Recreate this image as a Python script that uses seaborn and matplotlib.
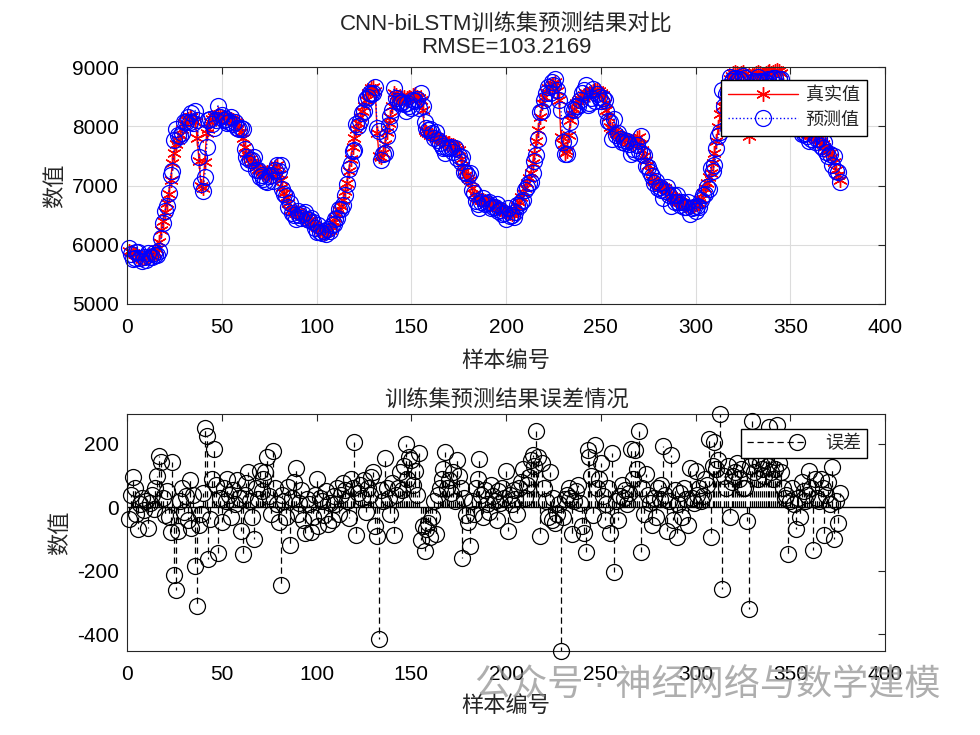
import numpy as np
import matplotlib
matplotlib.use('Agg')
import matplotlib.pyplot as plt
from matplotlib.lines import Line2D
from matplotlib.legend_handler import HandlerBase
import seaborn as sns

# 训练集真实值 (sample 1..376)
true_vals = [
    5900, 5880, 5860, 5840, 5850, 5800, 5780, 5760, 5790, 5770,
    5800, 5810, 5830, 5850, 5880, 5920, 6050, 6250, 6400, 6550,
    6700, 6850, 7100, 7380, 7550, 7700, 7770, 7850, 7950, 8050,
    8100, 8120, 8150, 8160, 8100, 8080, 7800, 7420, 7000, 6950,
    7400, 7880, 7950, 8080, 8120, 8150, 8180, 8200, 8180, 8150,
    8160, 8140, 8150, 8120, 8130, 8100, 8080, 8050, 7980, 7900,
    7800, 7650, 7550, 7500, 7450, 7400, 7380, 7320, 7280, 7260,
    7230, 7200, 7180, 7220, 7200, 7150, 7250, 7320, 7350, 7200,
    7100, 6980, 6880, 6800, 6700, 6590, 6560, 6580, 6560, 6550,
    6520, 6500, 6480, 6470, 6460, 6420, 6380, 6350, 6330, 6300,
    6280, 6250, 6220, 6200, 6230, 6210, 6250, 6300, 6380, 6450,
    6520, 6580, 6650, 6750, 6900, 7050, 7250, 7450, 7650, 7800,
    7950, 8050, 8160, 8250, 8350, 8450, 8560, 8600, 8640, 8670,
    8600, 7880, 7500, 7480, 7550, 7700, 7900, 8050, 8160, 8350,
    8560, 8520, 8480, 8500, 8470, 8500, 8450, 8480, 8500, 8460,
    8520, 8550, 8500, 8480, 8450, 8280, 7940, 7900, 7880, 7860,
    7850, 7830, 7820, 7800, 7780, 7760, 7750, 7720, 7700, 7710,
    7690, 7680, 7650, 7620, 7600, 7450, 7320, 7250, 7180, 7120,
    7090, 6950, 6850, 6800, 6780, 6770, 6760, 6760, 6740, 6720,
    6700, 6690, 6680, 6660, 6640, 6620, 6600, 6580, 6570, 6550,
    6540, 6530, 6520, 6530, 6580, 6650, 6720, 6800, 6870, 6950,
    7050, 7130, 7210, 7380, 7550, 7750, 7940, 8150, 8390, 8500,
    8580, 8640, 8670, 8700, 8720, 8750, 8600, 8450, 7820, 7700,
    7550, 7580, 7850, 8100, 8200, 8300, 8390, 8420, 8460, 8500,
    8530, 8560, 8540, 8550, 8580, 8600, 8620, 8610, 8590, 8560,
    8520, 8400, 8270, 8150, 7990, 7950, 7920, 7880, 7850, 7820,
    7800, 7790, 7780, 7760, 7740, 7720, 7710, 7750, 7800, 7820,
    7700, 7600, 7500, 7430, 7350, 7250, 7100, 7080, 7050, 7020,
    7000, 6990, 6980, 6950, 6900, 6860, 6820, 6800, 6770, 6750,
    6730, 6720, 6700, 6690, 6670, 6660, 6640, 6650, 6660, 6680,
    6690, 6700, 6780, 6870, 6950, 7050, 7150, 7210, 7380, 7550,
    7750, 7990, 8200, 8350, 8440, 8600, 8700, 8800, 8850, 8900,
    8920, 8900, 8880, 8900, 8910, 8880, 8300, 7830, 8400, 8850,
    8880, 8900, 8920, 8900, 8880, 8870, 8900, 8920, 8930, 8900,
    8910, 8930, 8950, 8940, 8900, 8700, 8450, 8250, 8150, 8100,
    8080, 8050, 8020, 8000, 7980, 7950, 7920, 7900, 7880, 7860,
    7850, 7840, 7830, 7820, 7800, 7750, 7700, 7650, 7600, 7580,
    7550, 7480, 7400, 7260, 7180, 7100,
]

# 误差 = 真实值 - 预测值
errors = [
    -38, 40, 94, 60, -20, -70, 10, 30, -10, 20,
    -65, 15, 40, -5, 60, 100, 161, 142, 30, -25,
    50, -30, -78, 142, -213, -262, -75, 20, 60, -15,
    35, -40, 85, -65, 40, -186, -311, -55, -20, 45,
    250, 224, -163, -38, 90, 184, 70, -144, 30, -45,
    60, 20, 90, 40, -30, 55, 10, 85, 30, -75,
    -146, 40, 75, 112, 20, -30, -100, 60, 25, 115,
    50, 90, 110, 158, 35, -20, 179, 60, 10, -45,
    -244, 40, 20, -30, 65, -120, 30, 80, 123, -20,
    15, 55, -40, -80, 25, 10, -78, -30, 40, 88,
    -60, 30, 20, -25, 50, -53, 15, -40, 35, 10,
    60, -20, 40, 75, 55, 20, -35, 90, 60, 207,
    -88, 45, 70, 30, 85, -15, 60, 40, 95, 110,
    -60, -91, -414, 55, 20, 155, 60, 30, -20, 75,
    -88, 40, 60, 110, 55, 130, 200, 90, 160, 150,
    70, 115, 40, 170, -104, -60, -139, -70, -50, -95,
    -30, 20, -83, 40, 60, 90, 120, 173, 60, 85,
    45, 110, 20, 150, 100, 60, -160, 30, -25, -45,
    -123, 20, -20, 60, 90, 152, 40, -30, 55, 10,
    -15, 70, 35, 20, -40, 50, 15, 60, 30, 115,
    -75, 40, 10, 55, 25, -20, 60, 80, 120, 30,
    70, 95, 150, 165, 130, 242, 160, -90, 140, 60,
    20, -30, 110, -40, 30, -50, -20, 10, -453, -30,
    25, 40, 60, 30, -85, 20, 50, 70, 15, -60,
    -80, -140, 180, 160, 100, -25, 195, 60, 90, 140,
    35, -40, 10, 60, -80, 170, -204, 20, -40, 35,
    70, 30, 55, 10, 45, 185, 90, 180, 120, 242,
    -140, 60, -20, 105, 40, 15, -55, 30, -30, 60,
    25, 70, 192, 40, -75, 20, 165, -40, 55, -95,
    10, 45, -30, 60, 25, -55, 125, 30, 15, 115,
    40, 60, 20, 35, 90, 70, 214, -94, 130, 205,
    120, 150, 295, -257, 100, 60, 130, -30, 80, 100,
    110, 140, 90, 120, 60, 60, -43, -322, 130, 271,
    110, 150, 90, 140, 120, 100, 150, 130, 253, 110,
    90, 120, 258, 140, 110, 60, 30, 40, -146, 20,
    60, 10, -70, 30, -30, 80, 50, 20, 40, 115,
    60, -135, 90, 30, 20, 90, 60, -86, 40, 80,
    10, 126, -100, 20, -50, 45,
]

samples = np.arange(1, len(true_vals) + 1)
pred_vals = np.array(true_vals) - np.array(errors)
rmse_text = 'RMSE=103.2169'


class StemHandle(HandlerBase):
    # dashed stem line with the circle at its right end, like MATLAB's stem legend
    def create_artists(self, legend, orig, xd, yd, w, h, fontsize, trans):
        y = (h - yd) / 2
        ln = Line2D([-xd, -xd + w], [y, y], color='k', ls=(0, (5, 3)), lw=0.9,
                    transform=trans)
        mk = Line2D([-xd + w - 6], [y], marker='o', ms=11.5, mfc='none',
                    mec='k', mew=0.9, ls='none', transform=trans)
        return [ln, mk]


sns.set_style('white')
plt.rcParams['font.family'] = ['Liberation Sans', 'Noto Sans CJK SC', 'DejaVu Sans']
plt.rcParams['axes.unicode_minus'] = False

edge = '#262626'
fig = plt.figure(figsize=(9.8, 7.35), dpi=100)
ax1 = fig.add_axes([0.1296, 0.5864, 0.7735, 0.3224])
ax2 = fig.add_axes([0.1296, 0.1143, 0.7735, 0.3224])

# --- top: true vs predicted
sns.lineplot(x=samples, y=true_vals, ax=ax1, color='red', lw=1,
             marker=(6, 2, 0), markersize=10.5, markeredgecolor='red',
             markeredgewidth=1, label='真实值', clip_on=False)
sns.lineplot(x=samples, y=pred_vals, ax=ax1, color='blue', lw=1, ls=':',
             marker='o', markersize=11.5, markerfacecolor='none',
             markeredgecolor='blue', markeredgewidth=0.9, label='预测值',
             clip_on=False)
ax1.set_xlim(0, 400)
ax1.set_ylim(5000, 9000)
ax1.set_xticks(range(0, 401, 50))
ax1.set_yticks(range(5000, 9001, 1000))
ax1.grid(True, color='#dcdcdc', lw=0.8)
ax1.set_axisbelow(True)
ax1.set_xlabel('样本编号', fontsize=16, labelpad=10)
ax1.set_ylabel('数值', fontsize=16, labelpad=4)
ax1.set_title('CNN-biLSTM训练集预测结果对比\n' + rmse_text, fontsize=16,
              pad=10, linespacing=1.1)
h, l = ax1.get_legend_handles_labels()
ax1.legend(h, l, loc='upper right', bbox_to_anchor=(0.976, 0.945),
           borderaxespad=0, fontsize=13, frameon=True, fancybox=False,
           edgecolor='k', framealpha=1, handlelength=3.9, handletextpad=0.4,
           borderpad=0.4, labelspacing=0.4)

# --- bottom: error stems
ax2.axhline(0, color='k', lw=1, zorder=1)
ax2.vlines(samples, 0, errors, colors='k', linestyles=(0, (5, 3)), lw=0.9,
           zorder=2)
sns.lineplot(x=samples, y=errors, ax=ax2, ls='none', marker='o',
             markersize=11.5, markerfacecolor='none', markeredgecolor='k',
             markeredgewidth=0.9, clip_on=False, zorder=3)
ax2.set_xlim(0, 400)
ax2.set_ylim(-453, 294)
ax2.set_xticks(range(0, 401, 50))
ax2.set_yticks([-400, -200, 0, 200])
ax2.set_xlabel('样本编号', fontsize=16, labelpad=9)
ax2.set_ylabel('数值', fontsize=16, labelpad=4)
ax2.set_title('训练集预测结果误差情况', fontsize=16, pad=5)
ax2.legend([object()], ['误差'], handler_map={object: StemHandle()},
           loc='upper right', bbox_to_anchor=(0.976, 0.937), borderaxespad=0,
           fontsize=13, frameon=True, fancybox=False, edgecolor='k',
           framealpha=1, handlelength=3.2, handletextpad=1.1, borderpad=0.33)

for ax in (ax1, ax2):
    for s in ax.spines.values():
        s.set_visible(True)
        s.set_color(edge)
        s.set_linewidth(0.8)
    ax.tick_params(direction='in', length=5, width=0.8, top=True, right=True,
                   labelsize=15, colors=edge, labelcolor='k')
    ax.tick_params(axis='x', pad=10)
    ax.tick_params(axis='y', pad=6)

# watermark
fig.text(0.96, 0.066, '公众号 · 神经网络与数学建模', ha='right', va='center',
         fontsize=26, color='#8c8c8c', alpha=0.7)

fig.savefig('out.png', dpi=100)
